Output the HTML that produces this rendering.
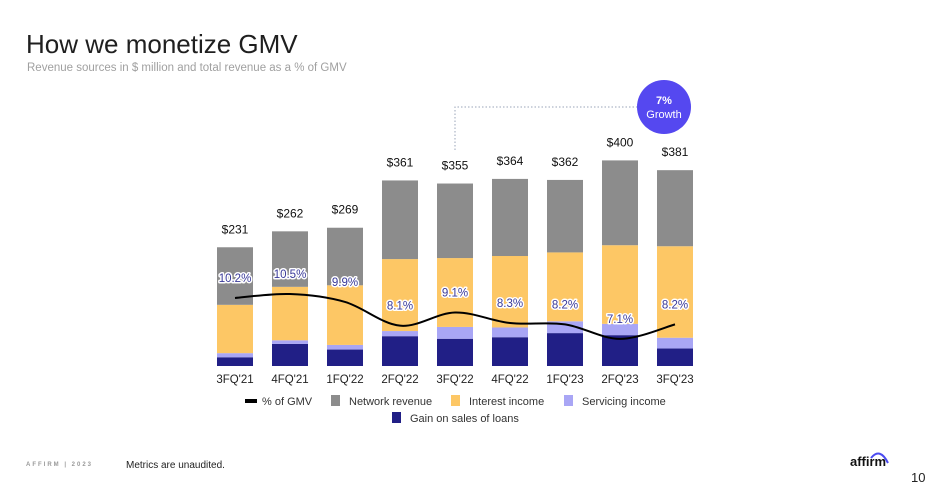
<!DOCTYPE html>
<html><head><meta charset="utf-8"><style>
body{margin:0;width:930px;height:498px;background:#fff;font-family:"Liberation Sans",sans-serif;overflow:hidden;position:relative}
.t{position:absolute;white-space:nowrap}
</style></head><body>
<div class="t" style="left:26px;top:29px;font-size:26px;color:#1f1f1f;font-weight:300">How we monetize GMV</div>
<div class="t" style="left:27px;top:62px;font-size:11.5px;color:#a0a0a0">Revenue sources in $ million and total revenue as a % of GMV</div>
<svg id="chart" width="930" height="498" style="position:absolute;left:0;top:0">
<path d="M455,150 V107 H637" fill="none" stroke="#9aa4b8" stroke-width="1" stroke-dasharray="1.5,2"/>
<circle cx="664" cy="107" r="27" fill="#5548f0"/>
<text x="664" y="104" text-anchor="middle" font-size="11" font-weight="bold" fill="#fff">7%</text>
<text x="664" y="118" text-anchor="middle" font-size="11" fill="#fff">Growth</text>
<g id="bars"></g><g id="line"></g><g id="labels"></g>
<g font-size="11" fill="#333">
<rect x="245" y="399" width="12" height="4" fill="#000"/><text x="262" y="405">% of GMV</text>
<rect x="331" y="395" width="9" height="11" fill="#8c8c8c"/><text x="349" y="405">Network revenue</text>
<rect x="451" y="395" width="9" height="11" fill="#fdc765"/><text x="469" y="405">Interest income</text>
<rect x="564" y="395" width="9" height="11" fill="#a9a6f5"/><text x="582" y="405">Servicing income</text>
<rect x="392" y="412" width="9" height="11" fill="#211f86"/><text x="410" y="422">Gain on sales of loans</text>
</g>
</svg>
<div class="t" style="left:26px;top:462px;font-size:6px;letter-spacing:2px;color:#999;font-weight:bold">AFFIRM | 2023</div>
<div class="t" style="left:126px;top:460px;font-size:10px;color:#222">Metrics are unaudited.</div>
<div class="t" style="left:850px;top:454px;font-size:13px;font-weight:bold;color:#111">affirm</div>
<svg style="position:absolute;left:868px;top:449px" width="24" height="16"><path d="M3,9 Q12,-2 20,14" fill="none" stroke="#4a4af0" stroke-width="2"/></svg>
<div class="t" style="left:911px;top:470px;font-size:13px;color:#222">10</div>
<script>
const categories=["3FQ'21","4FQ'21","1FQ'22","2FQ'22","3FQ'22","4FQ'22","1FQ'23","2FQ'23","3FQ'23"];
const gain=[17,43,32,58,53,56,64,60,34];
const servicing=[8,7,9,10,23,19,23,22,21];
const interest=[94,104,116,140,134,139,134,153,178];
const network=[112,108,112,153,145,150,141,165,148];
const totals=["$231","$262","$269","$361","$355","$364","$362","$400","$381"];
const pctGMV=[10.2,10.5,9.9,8.1,9.1,8.3,8.2,7.1,8.2];
const NS='http://www.w3.org/2000/svg';
const base=366,scale=0.514,bw=36;
const xc=i=>235+i*55;
const yv=v=>base-v*scale;
const yp=p=>294+(10.5-p)*13.2;
const bars=document.getElementById('bars'),lab=document.getElementById('labels'),ln=document.getElementById('line');
function mk(tag,attrs,parent){const e=document.createElementNS(NS,tag);for(const k in attrs)e.setAttribute(k,attrs[k]);parent.appendChild(e);return e;}
const series=[[gain,'#211f86','gain'],[servicing,'#a9a6f5','servicing'],[interest,'#fdc765','interest'],[network,'#8c8c8c','network']];
categories.forEach((c,i)=>{
  let acc=0;
  series.forEach(([arr,col,nm])=>{
    const r=mk('rect',{x:xc(i)-bw/2,y:yv(acc+arr[i]),width:bw,height:arr[i]*scale,fill:col},bars);
    
    
    acc+=arr[i];
  });
  const t=mk('text',{x:xc(i),y:yv(acc)-14,'text-anchor':'middle','font-size':12,fill:'#111'},lab);
  t.textContent=totals[i];
  
  
  const x=mk('text',{x:xc(i),y:383,'text-anchor':'middle','font-size':11.5,fill:'#222'},lab);
  x.textContent=c;
  
  
  const p=mk('text',{x:xc(i),y:yp(pctGMV[i])-16,'text-anchor':'middle','font-size':11.5,fill:'#3a3a9a',stroke:'#fff','stroke-width':3,'paint-order':'stroke','stroke-linejoin':'round'},lab);
  p.textContent=pctGMV[i].toFixed(1)+'%';
  
  
});
const pts=pctGMV.map((p,i)=>[xc(i),yp(p)]);
let d='M'+pts[0][0]+','+pts[0][1];
for(let i=0;i<pts.length-1;i++){
  const p0=pts[Math.max(0,i-1)],p1=pts[i],p2=pts[i+1],p3=pts[Math.min(pts.length-1,i+2)];
  const c1=[p1[0]+(p2[0]-p0[0])/6,p1[1]+(p2[1]-p0[1])/6],c2=[p2[0]-(p3[0]-p1[0])/6,p2[1]-(p3[1]-p1[1])/6];
  d+=` C${c1[0]},${c1[1]} ${c2[0]},${c2[1]} ${p2[0]},${p2[1]}`;
}
const path=mk('path',{d:d,fill:'none',stroke:'#000','stroke-width':2},ln);


</script>
</body></html>
